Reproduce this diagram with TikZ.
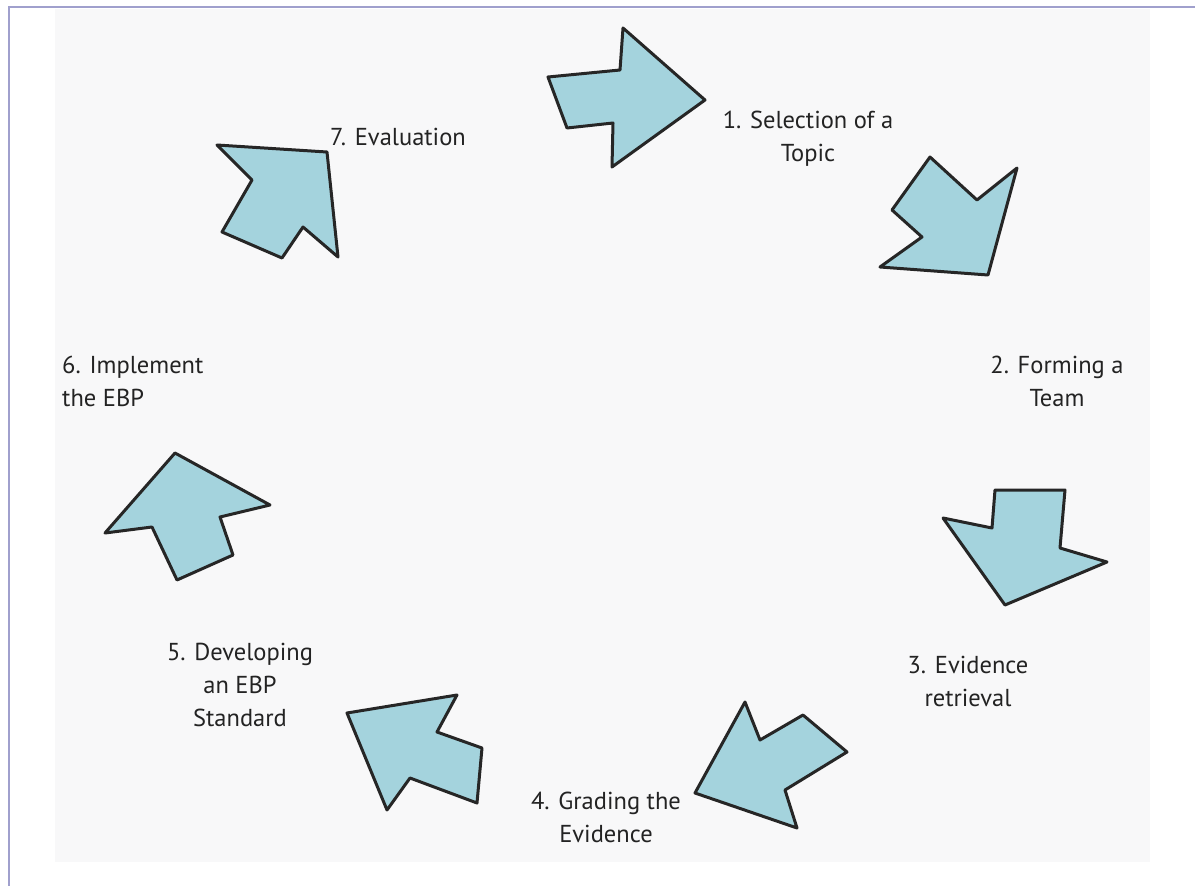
\documentclass[tikz,border=0pt]{standalone}
\usepackage{fontspec}
\setmainfont{PT Sans}
\usepackage{tikz}
\definecolor{arrowblue}{RGB}{164,211,221}
\definecolor{frameline}{RGB}{160,160,205}
\definecolor{panel}{RGB}{248,248,249}
\definecolor{labeltext}{RGB}{35,35,35}
\tikzset{
  stepshape/.style={fill=arrowblue,draw=black!85,line width=3pt,line join=round},
  steplabel/.style={text=labeltext,font=\fontsize{24.5}{33}\selectfont,align=center,inner sep=0pt}
}
\begin{document}
\begin{tikzpicture}[x=1pt,y=-1pt]
    \useasboundingbox (0,0) rectangle (1195,886);
    \fill[white] (0,0) rectangle (1195,886);
    \fill[panel] (55,9) rectangle (1150,862);
    \draw[frameline,line width=2pt] (1195,7) -- (8.5,7) -- (8.5,886);
    % arrows, clockwise from the top
    \filldraw[stepshape] (548,77) -- (620,70) -- (623,28) -- (705,100) -- (612,167) -- (613,123) -- (567,128) -- cycle;
    \filldraw[stepshape] (930,157) -- (977,200) -- (1017,168) -- (988,275) -- (880,267) -- (922,237) -- (892,210) -- cycle;
    \filldraw[stepshape] (995,490) -- (1065,490) -- (1060,548) -- (1107,562) -- (1005,605) -- (943,518) -- (992,528) -- cycle;
    \filldraw[stepshape] (745,702) -- (760,740) -- (803,715) -- (847,752) -- (785,790) -- (797,828) -- (695,793) -- cycle;
    \filldraw[stepshape] (347,713) -- (457,695) -- (437,732) -- (482,748) -- (477,803) -- (410,778) -- (387,810) -- cycle;
    \filldraw[stepshape] (175,453) -- (270,505) -- (220,517) -- (233,555) -- (177,580) -- (152,527) -- (105,533) -- cycle;
    \filldraw[stepshape] (217,145) -- (327,152) -- (338,257) -- (303,227) -- (282,258) -- (222,232) -- (252,180) -- cycle;
    % labels
    \node[steplabel] (topic) at (808,139) {1. Selection of a\\Topic};
    \node[steplabel] (team) at (1057,381) {2. Forming a\\Team};
    \node[steplabel] (retrieval) at (968,681) {3. Evidence\\retrieval};
    \node[steplabel] (grading) at (606,817) {4. Grading the\\Evidence};
    \node[steplabel] (standard) at (240,685) {5. Developing\\an EBP\\Standard};
    \node[steplabel,align=left,anchor=west] (implement) at (62,381) {6. Implement\\the EBP};
    \node[steplabel] (evaluation) at (398,137) {7. Evaluation};
\end{tikzpicture}
\end{document}
